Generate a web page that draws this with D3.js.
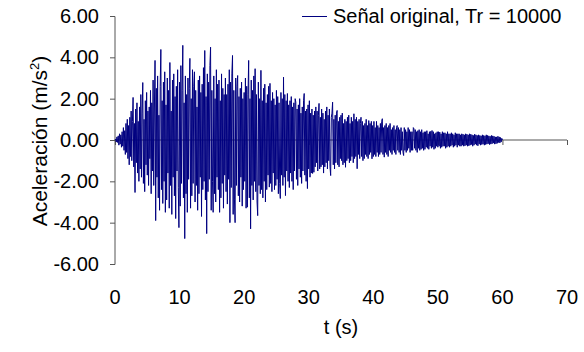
<!DOCTYPE html>
<html><head><meta charset="utf-8">
<script src="https://cdn.jsdelivr.net/npm/d3@7"></script>
<style>body{margin:0;background:#fff}svg{display:block}text{font-family:"Liberation Sans",Arial,sans-serif;fill:#000}</style>
</head><body><svg id="c" width="584" height="352"></svg>
<script>
const seriesName = "Señal original, Tr = 10000";
const xTicks = [0,10,20,30,40,50,60,70];
const yTicks = [-6,-4,-2,0,2,4,6];
const dt = 0.1;
// acceleration (m/s2), sampled every 0.1 s from t = 0 to 60 s
const accel = [
0,0.05,-0.1,0.15,-0.12,0.2,-0.25,0.3,-0.2,0.25,
-0.35,0.4,-0.3,0.6,-0.5,0.45,-0.7,0.8,-0.6,1.0,
-0.9,0.7,-1.2,1.1,-0.8,1.4,-1.0,0.9,2.06,-1.3,
0.8,-2.54,1.5,-1.1,1.8,-1.6,0.9,-2.0,1.6,-1.4,
2.2,-1.8,1.3,2.78,-2.1,1.0,-2.5,1.9,-1.2,2.3,
-1.7,1.4,-2.2,1.6,-0.9,2.4,-2.6,1.8,-1.5,2.9,
-2.2,1.5,3.85,-3.9,2.5,-1.8,3.1,-2.8,1.2,-3.4,
2.6,4.38,-2.4,1.9,-3.07,2.8,-2.0,3.3,-3.5,1.7,
-2.9,3.0,-1.6,2.4,-3.3,3.75,-2.2,1.4,-3.6,2.9,
-1.8,3.2,-2.7,2.1,-3.8,2.6,-1.5,3.4,-2.3,-4.24,
2.8,-3.2,3.6,-2.1,2.4,4.58,-2.8,1.8,-4.77,3.1,
-2.6,2.2,-3.5,3.0,-1.9,2.5,3.95,-3.3,2.0,-2.7,
3.4,-2.1,2.6,3.3,-3.0,2.4,-2.2,1.6,-3.4,2.9,
-2.6,3.1,-1.8,2.3,-3.7,2.7,-2.4,3.5,-2.0,4.33,
-2.9,2.1,-4.53,3.2,-2.5,2.8,-1.9,3.6,4.49,-3.4,
2.4,-2.0,-3.5,3.1,-2.6,2.0,-3.0,3.4,-1.8,2.7,
-2.4,2.9,-3.5,1.9,-2.8,3.2,-2.1,2.5,-3.3,2.2,
-1.7,3.0,-2.5,2.2,-3.1,2.7,-1.9,3.4,-4.0,2.8,
-2.3,3.2,4.09,-3.6,2.4,-2.9,-4.0,3.0,-2.2,2.6,
3.12,-2.7,2.1,-3.0,2.5,-1.8,2.8,-3.2,2.0,-2.4,
2.3,-2.0,3.0,-3.3,2.6,-3.25,2.2,3.85,-2.8,2.0,
-4.3,2.9,-2.2,2.4,-2.9,3.1,-2.0,3.45,-2.5,2.2,
-3.0,-3.66,2.8,-2.2,2.0,-2.6,3.37,-2.4,1.9,-2.8,
2.5,-2.0,2.7,-3.0,1.8,-2.4,2.2,-1.7,2.6,-2.28,
2.74,-2.1,1.9,-2.5,2.3,-1.6,2.0,-2.4,1.7,-2.2,
2.4,-1.9,2.1,-2.6,1.8,-2.1,-2.83,2.3,-1.7,2.0,
-2.2,3.04,-1.8,2.2,-2.69,1.9,-1.5,2.25,-2.0,1.7,
-2.3,1.9,-1.6,2.1,-2.0,1.6,-2.4,1.8,-1.5,2.0,
1.83,-1.9,1.5,-2.2,1.7,-1.4,2.0,-1.8,1.3,-2.1,
1.6,-1.5,1.9,2.25,-1.7,1.4,-2.0,1.5,-2.35,1.7,
-1.4,1.9,-1.8,1.3,-1.6,1.5,-1.62,1.2,-1.56,1.4,
-1.3,1.6,-1.1,1.4,-1.5,1.2,1.77,-1.4,1.1,-1.3,
1.5,-1.2,1.3,-1.6,1.0,-1.3,1.4,-1.1,1.6,-1.4,
1.2,-1.0,1.5,-1.3,-1.72,1.1,1.3,1.83,-1.2,1.0,
-1.4,1.2,-1.1,1.3,1.43,-1.2,0.9,-1.3,1.1,-0.9,
1.2,-1.0,1.3,-1.2,0.8,-1.1,1.0,-1.32,0.9,-1.0,
1.1,-0.9,1.2,-1.1,0.8,-1.0,1.1,-0.8,0.9,-1.1,
1.27,-0.9,1.0,-0.8,1.1,-1.39,0.9,-0.7,1.0,-0.9,
0.8,1.1,-0.8,0.9,-1.0,0.7,-0.9,0.8,-0.7,1.0,
-0.8,0.7,-0.9,0.94,-0.7,0.8,-0.6,0.9,-0.91,0.7,
-0.8,0.9,-0.7,0.6,-0.8,0.9,-0.6,0.7,-0.8,0.6,
-0.7,0.8,-0.6,0.9,1.03,-0.7,0.6,-0.83,0.7,-0.6,
0.8,-0.7,0.6,-0.8,0.7,-0.5,0.8,-0.6,0.5,-0.7,
0.6,-0.5,0.7,-0.6,0.5,-0.7,0.6,0.7,-0.5,0.6,
-0.6,0.5,-0.7,0.6,-0.5,0.4,-0.6,-0.75,0.6,-0.5,
0.5,-0.6,0.4,-0.5,0.6,-0.4,0.5,-0.6,0.4,-0.5,
0.4,-0.5,0.6,0.54,-0.4,0.5,-0.5,0.4,-0.6,0.45,
-0.4,0.5,-0.5,0.4,-0.45,0.5,-0.4,0.35,-0.5,0.4,
-0.45,0.4,-0.35,0.45,-0.4,0.3,-0.45,0.4,-0.3,0.42,
-0.4,0.46,-0.35,0.4,-0.45,0.3,-0.4,0.35,-0.3,0.4,
-0.35,0.4,-0.3,0.38,-0.4,0.3,-0.35,0.4,-0.3,0.35,
-0.3,0.35,-0.4,0.3,-0.35,0.4,-0.3,0.3,-0.35,0.3,
-0.3,0.35,-0.25,0.3,-0.35,0.25,-0.3,0.35,-0.25,0.3,
-0.35,0.3,-0.25,0.3,-0.3,0.25,-0.3,0.3,-0.25,0.28,
-0.3,0.25,-0.28,0.3,-0.25,0.28,-0.3,0.25,-0.28,0.3,
-0.25,0.28,-0.22,0.25,-0.3,0.22,-0.25,0.28,-0.2,0.25,
-0.25,0.22,-0.28,0.25,-0.2,0.22,-0.25,0.2,-0.22,0.25,
-0.2,0.22,-0.25,0.2,-0.22,0.25,-0.2,0.22,-0.18,0.2,
-0.22,0.18,-0.2,0.22,-0.18,0.2,-0.15,0.18,-0.2,0.15,
-0.18,0.15,-0.16,0.18,-0.12,0.15,-0.14,0.12,-0.1,0.08,
0
];

const svg = d3.select("#c");
const x = d3.scaleLinear().domain([0,70]).range([115,567]);
const y = d3.scaleLinear().domain([-6,6]).range([264,16]);
const axisColor = "#555";
const fs = 20;
const fmt = d => d3.format(".2f")(d).replace("\u2212","-");

// y axis
const ya = svg.append("g").attr("transform","translate(115,0)")
  .call(d3.axisLeft(y).tickValues(yTicks).tickSize(5).tickPadding(11).tickFormat(fmt));
ya.select(".domain").attr("stroke",axisColor).attr("d","M0,16.5V264.5");
ya.selectAll(".tick line").attr("stroke",axisColor);
ya.selectAll("text").style("font-size",fs+"px").attr("font-family",null);

// data line
const line = d3.line().x((d,i)=>x(i*dt)).y(d=>y(d));
svg.append("path").datum(accel).attr("d",line)
  .attr("fill","none").attr("stroke","#000080").attr("stroke-width",1).attr("stroke-linejoin","miter");

// x axis at y=0
const xa = svg.append("g").attr("transform",`translate(0,${y(0)})`)
  .call(d3.axisBottom(x).tickValues(xTicks).tickSize(5).tickFormat(""));
xa.select(".domain").attr("stroke",axisColor).attr("d",`M${x(0)},0H${x(70)}`);
xa.selectAll(".tick line").attr("stroke",axisColor);
xa.lower();

// x tick labels (low position)
svg.append("g").selectAll("text").data(xTicks).join("text")
  .attr("x",d=>x(d)).attr("y",304).attr("text-anchor","middle")
  .style("font-size",fs+"px").text(d=>d);

// axis titles
svg.append("text").attr("x",341).attr("y",334).attr("text-anchor","middle")
  .style("font-size",fs+"px").text("t (s)");
const yt = svg.append("text").attr("transform","translate(47,141) rotate(-90)")
  .attr("text-anchor","middle").style("font-size","21px");
yt.append("tspan").text("Aceleración (m/s");
yt.append("tspan").attr("dy",-8).style("font-size","13px").text("2");
yt.append("tspan").attr("dy",8).text(")");

// legend
svg.append("line").attr("x1",302).attr("x2",327).attr("y1",16.5).attr("y2",16.5)
  .attr("stroke","#000080").attr("stroke-width",1);
svg.append("text").attr("x",333).attr("y",23).style("font-size",fs+"px").text(seriesName);
</script></body></html>
